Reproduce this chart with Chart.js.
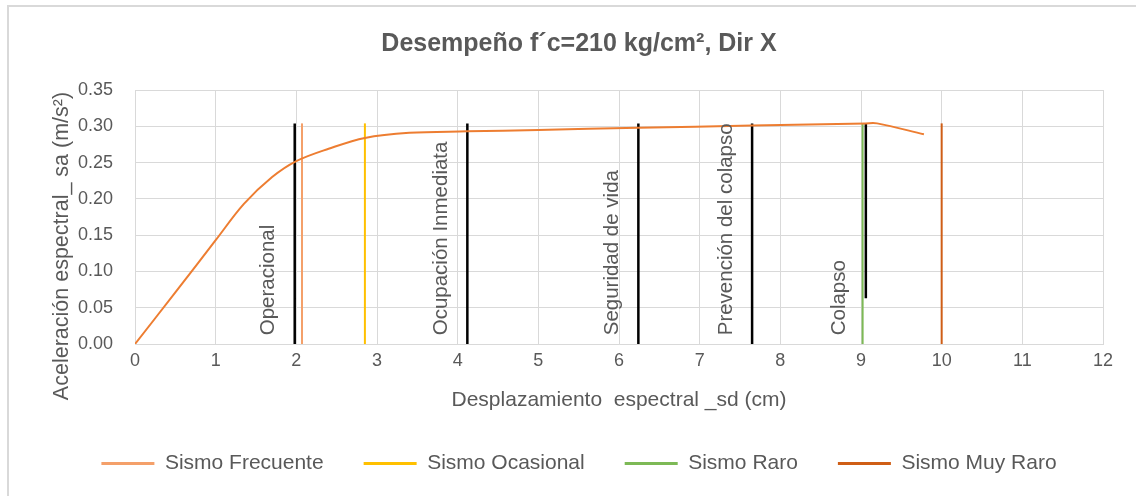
<!DOCTYPE html>
<html>
<head>
<meta charset="utf-8">
<title>Desempeño f´c=210 kg/cm², Dir X</title>
<script src="https://cdn.jsdelivr.net/npm/chart.js@4.4.0/dist/chart.umd.min.js"></script>
<style>
    html, body { margin: 0; padding: 0; background: #fff; }
    #wrap { position: relative; width: 1136px; height: 496px; overflow: hidden; }
    #frame { position: absolute; left: 7px; top: 5px; width: 1200px; height: 600px;
             border-left: 2px solid #d9d9d9; border-top: 2px solid #d9d9d9; }
    canvas { position: absolute; left: 0; top: 0; }
</style>
</head>
<body>
<div id="wrap">
    <div id="frame"></div>
    <canvas id="chart" width="1136" height="496"></canvas>
</div>
<script>
// Capacity curve (spectral displacement in cm vs spectral acceleration)
const curveSd = [0, 0.5, 1.0, 1.35, 1.7, 2.0, 2.4, 2.85, 3.4, 4.12, 5, 6.24, 7.65, 9.06, 9.2, 9.78];
const curveSa = [0, 0.071, 0.143, 0.193, 0.230, 0.252, 0.269, 0.284, 0.291, 0.293, 0.295, 0.298, 0.301, 0.304, 0.304, 0.289];

// Performance levels (black vertical lines)
const levelNames = ['Operacional', 'Ocupación Inmediata', 'Seguridad de vida', 'Prevención del colapso', 'Colapso'];
const levelX = [1.98, 4.12, 6.24, 7.65, 9.06];
const levelBottom = [0, 0, 0, 0, 0.063];
const levelTop = 0.304;

// Seismic demand (coloured vertical lines)
const demandNames = ['Sismo Frecuente', 'Sismo Ocasional', 'Sismo Raro', 'Sismo Muy Raro'];
const demandX = [2.07, 2.85, 9.02, 10.0];
const demandColors = ['#f4a06a', '#ffc000', '#7db956', '#cf5e16'];

const textColor = '#595959';
const fontFamily = '"Liberation Sans", Arial, sans-serif';

// Build datasets
const curveData = curveSd.map((x, i) => ({ x: x, y: curveSa[i] }));

const levelData = [];
levelX.forEach((x, i) => {
    levelData.push({ x: x, y: levelBottom[i] });
    levelData.push({ x: x, y: levelTop });
    levelData.push({ x: x, y: null });
});

const datasets = [{
    label: 'Capacidad',
    data: curveData,
    borderColor: '#ed7d31',
    backgroundColor: '#ed7d31',
    borderWidth: 2,
    pointRadius: 0,
    tension: 0.35,
    legendHidden: true
}, {
    label: 'Niveles',
    data: levelData,
    borderColor: '#000000',
    backgroundColor: '#000000',
    borderWidth: 2.5,
    pointRadius: 0,
    spanGaps: false,
    legendHidden: true
}];

demandNames.forEach((name, i) => {
    datasets.push({
        label: name,
        data: [{ x: demandX[i], y: 0 }, { x: demandX[i], y: levelTop }],
        borderColor: demandColors[i],
        backgroundColor: demandColors[i],
        borderWidth: 2,
        pointRadius: 0
    });
});

// Rotated level labels and y axis title
const labelsPlugin = {
    id: 'levelLabels',
    afterDatasetsDraw(chart) {
        const { ctx, scales: { x, y } } = chart;
        ctx.save();
        ctx.fillStyle = textColor;
        ctx.font = '20.5px ' + fontFamily;
        ctx.textAlign = 'left';
        ctx.textBaseline = 'middle';
        levelNames.forEach((name, i) => {
            const px = x.getPixelForValue(levelX[i]) - 26;
            const py = y.getPixelForValue(0.012);
            ctx.save();
            ctx.translate(px, py);
            ctx.rotate(-Math.PI / 2);
            ctx.fillText(name, 0, 0);
            ctx.restore();
        });

        ctx.font = '21.5px ' + fontFamily;
        ctx.textAlign = 'center';
        ctx.translate(62, 246);
        ctx.rotate(-Math.PI / 2);
        ctx.fillText('Aceleración espectral_ sa (m/s²)', 0, 0);
        ctx.restore();
    }
};

const chart = new Chart(document.getElementById('chart'), {
    type: 'line',
    data: { datasets: datasets },
    plugins: [labelsPlugin],
    options: {
        responsive: false,
        animation: false,
        layout: { padding: { left: 55, right: 33, top: 0, bottom: 12 } },
        scales: {
            x: {
                type: 'linear',
                min: 0,
                max: 12,
                ticks: { stepSize: 1, color: textColor, font: { family: fontFamily, size: 18 }, padding: 6 },
                grid: { color: '#d9d9d9', drawTicks: false },
                border: { color: '#d9d9d9' },
                title: {
                    display: true,
                    text: 'Desplazamiento  espectral _sd (cm)',
                    color: textColor,
                    font: { family: fontFamily, size: 21 },
                    padding: { top: 0, bottom: 0 }
                },
                afterFit(scale) { scale.height = 69; }
            },
            y: {
                min: 0,
                max: 0.35,
                ticks: {
                    stepSize: 0.05,
                    color: textColor,
                    font: { family: fontFamily, size: 18 },
                    padding: 22,
                    callback: v => v.toFixed(2)
                },
                grid: { color: '#d9d9d9', drawTicks: false },
                border: { color: '#d9d9d9' },
                afterFit(scale) { scale.width = 80; }
            }
        },
        plugins: {
            title: {
                display: true,
                text: 'Desempeño f´c=210 kg/cm², Dir X',
                color: textColor,
                font: { family: fontFamily, size: 25, weight: 'bold' },
                padding: { top: 29, bottom: 31 }
            },
            legend: {
                position: 'bottom',
                labels: {
                    boxWidth: 53,
                    boxHeight: 3,
                    padding: 40,
                    color: textColor,
                    font: { family: fontFamily, size: 21 },
                    generateLabels: chart => Chart.defaults.plugins.legend.labels.generateLabels(chart)
                        .map(item => Object.assign(item, { lineWidth: 0 })),
                    filter: (item, data) => !data.datasets[item.datasetIndex].legendHidden
                }
            },
            tooltip: { enabled: false }
        }
    }
});
</script>
</body>
</html>
